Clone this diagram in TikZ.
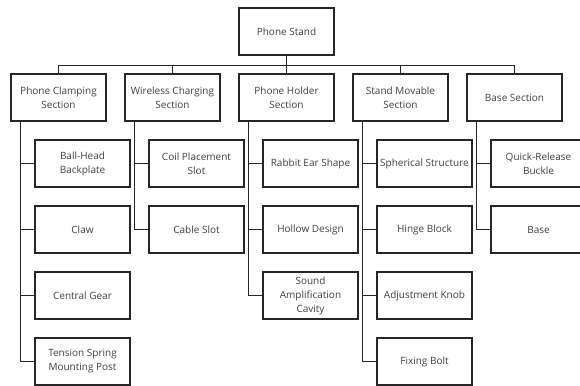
\documentclass[tikz,border=0pt]{standalone}
\usepackage{fontspec}
\setmainfont{Open Sans}
\usetikzlibrary{positioning}

\begin{document}
\begin{tikzpicture}[x=1pt, y=1pt, node distance=66pt,
    box/.style={draw=black!85, line width=1.1pt, rectangle, minimum width=95pt, minimum height=47pt, inner sep=1pt, align=center, text=black!75, font=\fontsize{10}{14}\selectfont},
    link/.style={draw=black!85, line width=1.1pt}]
    \useasboundingbox (0,0) rectangle (580,-385);
    \node (stand) [box] at (286.5,-31.5) {Phone Stand};

    \node (holder) [box, below of=stand] {Phone Holder\\Section};
    \node (wireless) [box, left of=holder, xshift=-48pt] {Wireless Charging\\Section};
    \node (clamp) [box, left of=wireless, xshift=-48pt] {Phone Clamping\\Section};
    \node (movable) [box, right of=holder, xshift=48pt] {Stand Movable\\Section};
    \node (base) [box, right of=movable, xshift=48pt] {Base Section};

    \node (ball) [box, below of=clamp, xshift=24pt] {Ball-Head\\Backplate};
    \node (claw) [box, below of=ball] {Claw};
    \node (gear) [box, below of=claw] {Central Gear};
    \node (spring) [box, below of=gear] {Tension Spring\\Mounting Post};

    \node (coil) [box, below of=wireless, xshift=24pt] {Coil Placement\\Slot};
    \node (cable) [box, below of=coil] {Cable Slot};

    \node (ear) [box, below of=holder, xshift=24pt] {Rabbit Ear Shape};
    \node (hollow) [box, below of=ear] {Hollow Design};
    \node (sound) [box, below of=hollow] {Sound\\Amplification\\Cavity};

    \node (sphere) [box, below of=movable, xshift=24pt] {Spherical Structure};
    \node (hinge) [box, below of=sphere] {Hinge Block};
    \node (knob) [box, below of=hinge] {Adjustment Knob};
    \node (bolt) [box, below of=knob] {Fixing Bolt};

    \node (buckle) [box, below of=base, xshift=24pt] {Quick-Release\\Buckle};
    \node (plate) [box, below of=buckle] {Base};

    \draw[link] (stand.south) -- ++(0,-10pt) -| (clamp.north);
    \draw[link] (stand.south) -- ++(0,-10pt) -| (wireless.north);
    \draw[link] (stand.south) -- (holder.north);
    \draw[link] (stand.south) -- ++(0,-10pt) -| (movable.north);
    \draw[link] (stand.south) -- ++(0,-10pt) -| (base.north);

    \draw[link] ([xshift=10pt]clamp.south west) |- (ball.west);
    \draw[link] ([xshift=10pt]clamp.south west) |- (claw.west);
    \draw[link] ([xshift=10pt]clamp.south west) |- (gear.west);
    \draw[link] ([xshift=10pt]clamp.south west) |- (spring.west);

    \draw[link] ([xshift=10pt]wireless.south west) |- (coil.west);
    \draw[link] ([xshift=10pt]wireless.south west) |- (cable.west);

    \draw[link] ([xshift=10pt]holder.south west) |- (ear.west);
    \draw[link] ([xshift=10pt]holder.south west) |- (hollow.west);
    \draw[link] ([xshift=10pt]holder.south west) |- (sound.west);

    \draw[link] ([xshift=10pt]movable.south west) |- (sphere.west);
    \draw[link] ([xshift=10pt]movable.south west) |- (hinge.west);
    \draw[link] ([xshift=10pt]movable.south west) |- (knob.west);
    \draw[link] ([xshift=10pt]movable.south west) |- (bolt.west);

    \draw[link] ([xshift=10pt]base.south west) |- (buckle.west);
    \draw[link] ([xshift=10pt]base.south west) |- (plate.west);
\end{tikzpicture}
\end{document}
